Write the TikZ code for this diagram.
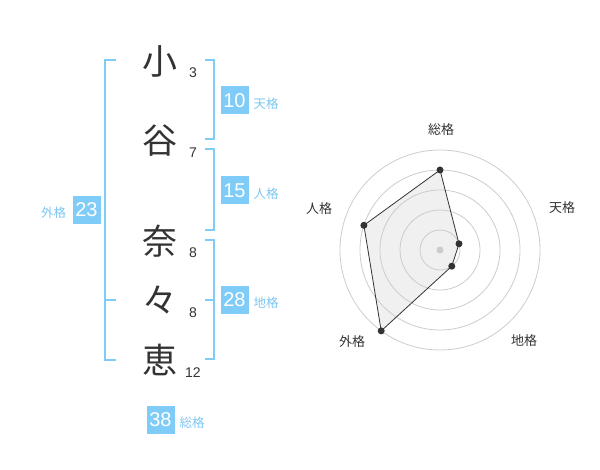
\documentclass[tikz,border=0pt]{standalone}
\usepackage{fontspec}
\setmainfont{Liberation Sans}
\newfontfamily\jp{Noto Sans CJK JP}
\definecolor{kblue}{HTML}{80CCF8}
\definecolor{ktext}{HTML}{7DC6F2}
\definecolor{dark}{HTML}{333333}
\definecolor{ring}{HTML}{CCCCCC}
\definecolor{area}{HTML}{F0F0F0}
\begin{document}
\begin{tikzpicture}[x=1pt,y=-1pt,
  kanji/.style={font=\jp\fontsize{35}{35}\selectfont,text=dark,inner sep=0pt},
  strokes/.style={font=\fontsize{14}{14}\selectfont,text=dark,inner sep=0pt},
  numbox/.style={fill=kblue,text=white,minimum size=28pt,inner sep=0pt,font=\fontsize{20}{20}\selectfont},
  kaku/.style={font=\jp\fontsize{12.5}{12.5}\selectfont,text=ktext,inner sep=0pt},
  bracket/.style={draw=kblue,line width=2pt},
  ringline/.style={draw=ring,line width=0.8pt},
  axlabel/.style={font=\jp\fontsize{13}{13}\selectfont,text=dark,inner sep=0pt},
  dot/.style={circle,fill=dark,inner sep=0pt,minimum size=7pt}]
\useasboundingbox (0,0) rectangle (600,470);
% kanji
\node[kanji] (k1) at (160,61) {小};
\node[kanji] (k2) at (160,141) {谷};
\node[kanji] (k3) at (160,241) {奈};
\node[kanji] (k4) at (160,300) {々};
\node[kanji] (k5) at (160,360) {恵};
% stroke counts
\node[strokes] (s1) at (193,73) {3};
\node[strokes] (s2) at (193,153) {7};
\node[strokes] (s3) at (193,253) {8};
\node[strokes] (s4) at (193,313) {8};
\node[strokes] (s5) at (193,373) {12};
% left bracket (gaikaku)
\draw[bracket] (116,60) -- (105,60) -- (105,360) -- (116,360);
\draw[bracket] (105,300) -- (116,300);
% right brackets
\draw[bracket] (205,60) -- (214,60) -- (214,139) -- (205,139);
\draw[bracket] (205,149) -- (214,149) -- (214,230) -- (205,230);
\draw[bracket] (205,240) -- (214,240) -- (214,359) -- (205,359);
\draw[bracket] (205,300) -- (214,300);
% boxes and labels
\node[numbox] (b1) at (234.5,100.5) {10};
\node[kaku] (l1) at (266,104) {天格};
\node[numbox] (b2) at (234.5,190.5) {15};
\node[kaku] (l2) at (266,194) {人格};
\node[numbox] (b3) at (234.5,300) {28};
\node[kaku] (l3) at (266,303) {地格};
\node[numbox] (b4) at (86.5,210) {23};
\node[kaku] (l4) at (53.5,213) {外格};
\node[numbox] (b5) at (160.5,419.5) {38};
\node[kaku] (l5) at (192,422.5) {総格};
% radar chart
\coordinate (c) at (440,250);
\coordinate (p1) at (440,170);
\coordinate (p2) at (459.0,243.8);
\coordinate (p3) at (451.8,266.2);
\coordinate (p4) at (381.2,330.9);
\coordinate (p5) at (363.9,225.3);
\fill[area] (p1) -- (p2) -- (p3) -- (p4) -- (p5) -- cycle;
\foreach \r in {20,40,60,80,100} \draw[ringline] (c) circle[radius=\r];
\draw[dark,line width=0.8pt] (p1) -- (p2) -- (p3) -- (p4) -- (p5) -- cycle;
\fill[ring] (c) circle[radius=3.5];
\foreach \p in {p1,p2,p3,p4,p5} \node[dot] at (\p) {};
\node[axlabel] (a1) at (441,130) {総格};
\node[axlabel] (a2) at (562,208) {天格};
\node[axlabel] (a3) at (524,341) {地格};
\node[axlabel] (a4) at (352,342) {外格};
\node[axlabel] (a5) at (319,209) {人格};
\end{tikzpicture}
\end{document}
